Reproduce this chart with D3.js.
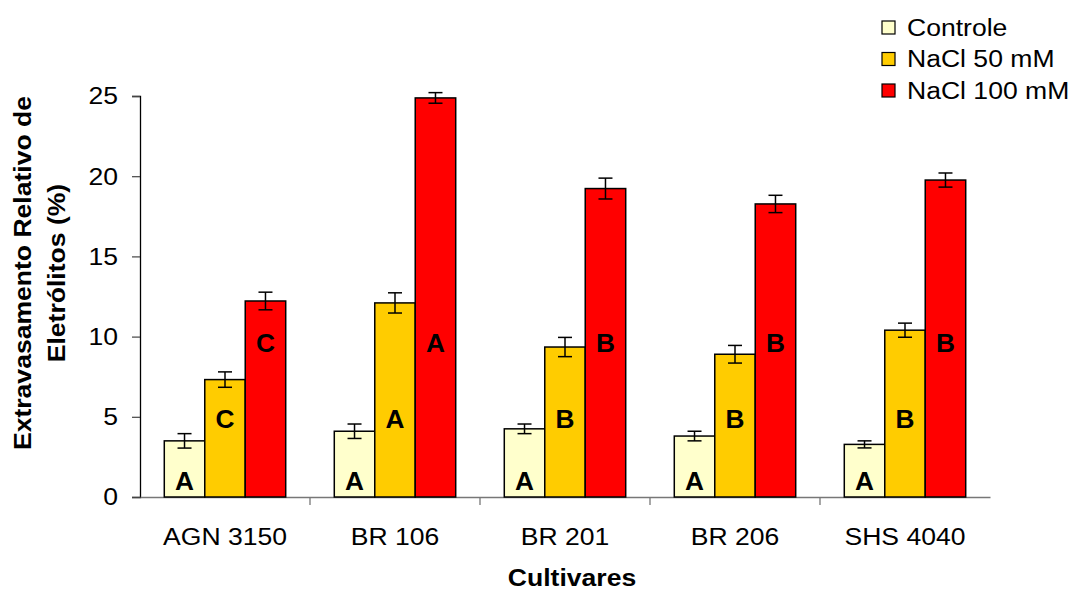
<!DOCTYPE html>
<html>
<head>
<meta charset="utf-8">
<script src="https://cdn.jsdelivr.net/npm/d3@7"></script>
<style>
  body { margin: 0; background: #fff; }
  svg { display: block; font-family: Arial, "Liberation Sans", sans-serif; }
</style>
</head>
<body>
<svg id="chart" width="1071" height="590"></svg>
<script>
// Relative electrolyte leakage by cultivar and salt treatment
const cultivars = ["AGN 3150", "BR 106", "BR 201", "BR 206", "SHS 4040"];
const treatments = ["Controle", "NaCl 50 mM", "NaCl 100 mM"];
const controle   = [3.5, 4.1, 4.25, 3.8, 3.28];
const nacl50     = [7.32, 12.1, 9.35, 8.9, 10.4];
const nacl100    = [12.22, 24.88, 19.23, 18.27, 19.76];
const errControle = [0.45, 0.45, 0.3, 0.3, 0.22];
const errNacl50   = [0.48, 0.63, 0.6, 0.55, 0.44];
const errNacl100  = [0.55, 0.33, 0.65, 0.54, 0.44];
const lettersControle = ["A", "A", "A", "A", "A"];
const lettersNacl50   = ["C", "A", "B", "B", "B"];
const lettersNacl100  = ["C", "A", "B", "B", "B"];
const yTicks = [0, 5, 10, 15, 20, 25];

const colors = ["#FFFFCC", "#FFCC00", "#FF0000"];
const seriesValues = [controle, nacl50, nacl100];
const seriesErr = [errControle, errNacl50, errNacl100];
const seriesLetters = [lettersControle, lettersNacl50, lettersNacl100];
// vertical centre of the significance letter for each series, in data units
const letterLevel = [1.0, 4.85, 9.6];

const FONT = 23.5;      // base text size
const WIDE = 1.13;      // horizontal widening of the text

const svg = d3.select("#chart");
const plotLeft = 140, plotRight = 990, plotTop = 96, plotBottom = 497;

const x = d3.scaleBand().domain(cultivars).range([plotLeft, plotRight]).paddingInner(0).paddingOuter(0);
const xs = d3.scaleBand().domain(d3.range(treatments.length))
  .range([0, x.bandwidth()]).paddingInner(0).paddingOuter(0.6);
const y = d3.scaleLinear().domain([0, 25]).range([plotBottom, plotTop]);

// place a widened text at (px, py)
function label(parent, px, py, str, opts = {}) {
  return parent.append("text")
    .attr("transform", `translate(${px},${py}) scale(${opts.wide || WIDE},1)`)
    .attr("text-anchor", opts.anchor || "middle")
    .attr("dy", opts.dy || 0)
    .attr("font-size", opts.size || FONT)
    .attr("font-weight", opts.bold ? "bold" : null)
    .attr("fill", "#000")
    .text(str);
}

// y axis
const yAxis = svg.append("g").attr("transform", `translate(${plotLeft},0)`)
  .call(d3.axisLeft(y).tickValues(yTicks).tickSize(8).tickFormat(""));
yAxis.select(".domain").attr("stroke", "#000").attr("stroke-width", 1.3);
yAxis.selectAll(".tick line").attr("stroke", "#444").attr("stroke-width", 1.2);
yTicks.forEach(t => label(svg, plotLeft - 22, y(t), t, { anchor: "end", dy: "0.36em" }));

// x axis
const xAxis = svg.append("g").attr("transform", `translate(0,${plotBottom})`)
  .call(d3.axisBottom(x).tickSize(0).tickFormat(""));
xAxis.select(".domain").attr("stroke", "#777").attr("stroke-width", 1.3);
cultivars.forEach(c => label(svg, x(c) + x.bandwidth() / 2, plotBottom + 48, c));
// category separator ticks
svg.append("g").selectAll("line")
  .data(cultivars.slice(1))
  .join("line")
  .attr("x1", d => x(d)).attr("x2", d => x(d))
  .attr("y1", plotBottom).attr("y2", plotBottom + 8)
  .attr("stroke", "#777").attr("stroke-width", 1.3);

// bars with error bars and significance letters
treatments.forEach((t, si) => {
  const g = svg.append("g");
  cultivars.forEach((c, ci) => {
    const v = seriesValues[si][ci];
    const e = seriesErr[si][ci];
    const bx = x(c) + xs(si);
    const bw = xs.bandwidth();
    g.append("rect")
      .attr("x", bx).attr("y", y(v))
      .attr("width", bw).attr("height", y(0) - y(v))
      .attr("fill", colors[si]).attr("stroke", "#000").attr("stroke-width", 1.5);
    const cx = bx + bw / 2;
    const cap = 7;
    g.append("line").attr("x1", cx).attr("x2", cx)
      .attr("y1", y(v + e)).attr("y2", y(v - e))
      .attr("stroke", "#000").attr("stroke-width", 1.5);
    [v + e, v - e].forEach(ev => {
      g.append("line").attr("x1", cx - cap).attr("x2", cx + cap)
        .attr("y1", y(ev)).attr("y2", y(ev))
        .attr("stroke", "#000").attr("stroke-width", 1.5);
    });
    label(g, cx, y(letterLevel[si]), seriesLetters[si][ci],
      { bold: true, size: 25, wide: 1.05, dy: "0.36em" });
  });
});

// axis titles
label(svg, (plotLeft + plotRight) / 2 + 7, 586, "Cultivares", { bold: true });

const yTitle = svg.append("g").attr("transform", "translate(0,273) rotate(-90)");
label(yTitle, 0, 31, "Extravasamento Relativo de", { bold: true });
label(yTitle, 0, 65, "Eletrólitos (%)", { bold: true });

// legend
const legend = svg.append("g").attr("transform", "translate(882,21)");
treatments.forEach((t, i) => {
  const row = legend.append("g").attr("transform", `translate(0,${i * 31.5})`);
  row.append("rect").attr("width", 13).attr("height", 13)
    .attr("fill", colors[i]).attr("stroke", "#000").attr("stroke-width", 1.2);
  label(row, 25, 6.5, t, { anchor: "start", dy: "0.36em" });
});
</script>
</body>
</html>
